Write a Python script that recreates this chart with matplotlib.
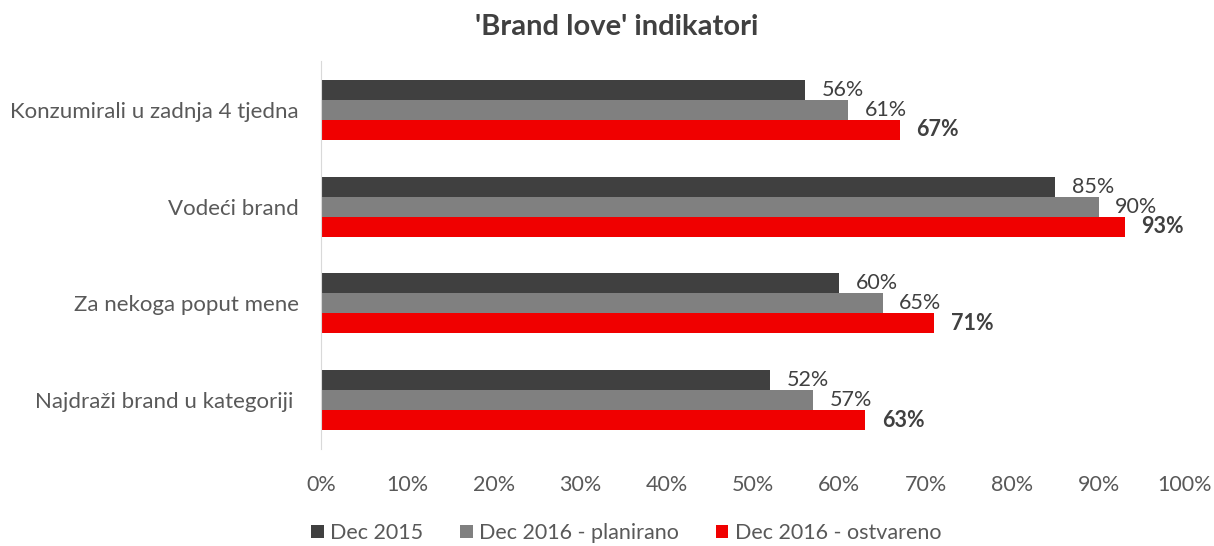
import matplotlib
matplotlib.use("Agg")
import matplotlib.pyplot as plt
import numpy as np

categories = ["Konzumirali u zadnja 4 tjedna", "Vodeći brand", "Za nekoga poput mene", "Najdraži brand u kategoriji "]
series_names = ["Dec 2015", "Dec 2016 - planirano", "Dec 2016 - ostvareno"]
dec2015 = [56, 85, 60, 52]
dec2016_plan = [61, 90, 65, 57]
dec2016_real = [67, 93, 71, 63]
xticks = [0, 10, 20, 30, 40, 50, 60, 70, 80, 90, 100]
colors = ["#404040", "#808080", "#F00000"]

plt.rcParams['font.family'] = ['Lato', 'DejaVu Sans']

fig = plt.figure(figsize=(12.14, 5.46), dpi=100)
ax = fig.add_axes([321/1214, 1-448.5/546, (1185-321)/1214, 387/546])

y = np.arange(len(categories))
h = 0.206
series = [dec2015, dec2016_plan, dec2016_real]
for i, (vals, name, c) in enumerate(zip(series, series_names, colors)):
    pos = y + (i - 1) * h
    ax.barh(pos, vals, height=h, color=c, label=name)
    for p, v in zip(pos, vals):
        ax.annotate(f"{v}%", (v, p), xytext=(12, 0), textcoords="offset points",
                    va="center", ha="left", fontsize=15.5, color="#404040",
                    fontweight="bold" if i == 2 else "normal")

ax.set_ylim(3.5, -0.5)
ax.set_xlim(0, 100)
ax.set_yticks(y)
ax.set_yticklabels(categories, fontsize=16, color="#595959")
ax.set_xticks(xticks)
ax.set_xticklabels([f"{t}%" for t in xticks], fontsize=15.5, color="#595959")
ax.tick_params(axis="both", length=0)
ax.tick_params(axis="y", pad=16)
ax.tick_params(axis="x", pad=19)
for s in ["top", "right", "bottom"]:
    ax.spines[s].set_visible(False)
ax.spines["left"].set_color("#d9d9d9")

fig.text(617/1214, 1-27/546, "'Brand love' indikatori", ha="center", va="center",
         fontsize=21, fontweight="bold", color="#404040")

leg = fig.legend(loc="center", bbox_to_anchor=(626/1214, 1-533/546), ncol=3, frameon=False,
                 fontsize=15.5, handlelength=0.6, handleheight=0.6, columnspacing=1.7,
                 handletextpad=0.3)
for t in leg.get_texts():
    t.set_color("#595959")

fig.savefig("out.png", dpi=100)
